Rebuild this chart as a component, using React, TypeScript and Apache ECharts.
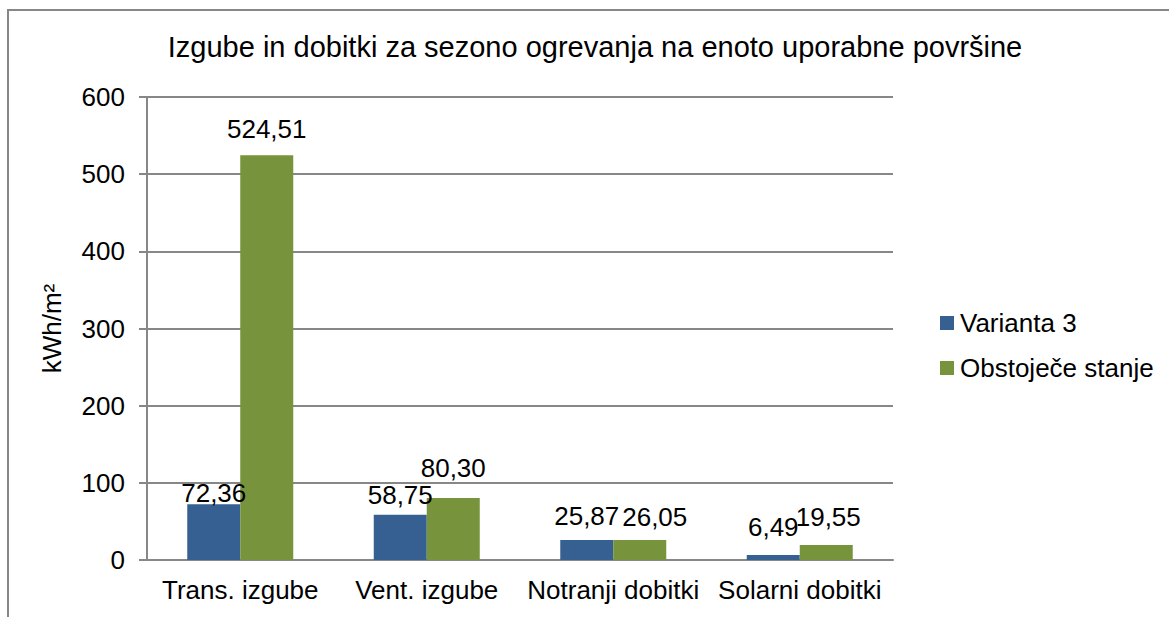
import React, { useEffect, useRef } from "react";
import * as echarts from "echarts";

const categories = ["Trans. izgube", "Vent. izgube", "Notranji dobitki", "Solarni dobitki"];
const seriesNames = ["Varianta 3", "Obstoječe stanje"];
const varianta3 = [72.36, 58.75, 25.87, 6.49];
const obstojece = [524.51, 80.3, 26.05, 19.55];
const yTicks = { min: 0, max: 600, interval: 100 };
const titleText = "Izgube in dobitki za sezono ogrevanja na enoto uporabne površine";
const yAxisName = "kWh/m²";

// label placement tweaks (distance above bar top, px; horizontal offset, px)
const distV3 = [-2, 7, 11, 15];
const distOb = [13, 17, 10, 15];
const shiftV3 = [0, 0, 0, 0];
const shiftOb = [0, 0, 15, 2];

const FONT = "'Liberation Sans', Arial, sans-serif";
const GRAY = "#878787";

const fmt = (v: number) => v.toFixed(2).replace(".", ",");

export default function App() {
  const ref = useRef<HTMLDivElement>(null);
  useEffect(() => {
    if (!ref.current) return;
    const chart = echarts.init(ref.current, null, { renderer: "svg" });
    const mk = (vals: number[], dists: number[], shifts: number[]) =>
      vals.map((v, i) => ({
        value: v,
        label: { distance: dists[i], offset: [shifts[i], 0] },
      }));
    const labelStyle = {
      show: true,
      position: "top",
      fontFamily: FONT,
      fontSize: 26,
      color: "#000",
      formatter: (p: any) => fmt(p.value),
    };
    chart.setOption({
      animation: false,
      backgroundColor: "#ffffff",
      textStyle: { fontFamily: FONT },
      graphic: [
        {
          type: "rect",
          silent: true,
          z: -10,
          shape: { x: 8, y: 10, width: 1400, height: 900 },
          style: { fill: "none", stroke: GRAY, lineWidth: 2 },
        },
        {
          type: "text",
          x: 595,
          y: 47,
          style: {
            text: titleText,
            fontFamily: FONT,
            fontSize: 29,
            fill: "#000",
            textAlign: "center",
            textVerticalAlign: "middle",
          },
        },
      ],
      legend: {
        orient: "vertical",
        left: 935,
        top: 305,
        itemWidth: 14,
        itemHeight: 14,
        itemGap: 19,
        icon: "rect",
        textStyle: { fontFamily: FONT, fontSize: 26, color: "#000", padding: [0, 0, 0, 1] },
        data: seriesNames,
      },
      grid: { left: 147, right: 276, top: 97, bottom: 57, containLabel: false },
      xAxis: {
        type: "category",
        data: categories,
        axisLine: { show: true, lineStyle: { color: GRAY, width: 2 } },
        axisTick: { show: false },
        axisLabel: { fontFamily: FONT, fontSize: 26, color: "#000", margin: 17, interval: 0 },
      },
      yAxis: {
        type: "value",
        min: yTicks.min,
        max: yTicks.max,
        interval: yTicks.interval,
        name: yAxisName,
        nameLocation: "middle",
        nameGap: 82,
        nameTextStyle: { fontFamily: FONT, fontSize: 26, color: "#000" },
        axisLine: { show: true, lineStyle: { color: GRAY, width: 2 } },
        axisTick: { show: true, inside: false, length: 8, lineStyle: { color: GRAY, width: 2 } },
        axisLabel: { fontFamily: FONT, fontSize: 26, color: "#000", margin: 22 },
        splitLine: { show: true, lineStyle: { color: GRAY, width: 2 } },
      },
      series: [
        {
          name: seriesNames[0],
          type: "bar",
          barWidth: 53,
          barGap: "0%",
          itemStyle: { color: "#376092" },
          label: labelStyle,
          data: mk(varianta3, distV3, shiftV3),
        },
        {
          name: seriesNames[1],
          type: "bar",
          barWidth: 53,
          barGap: "0%",
          itemStyle: { color: "#77933C" },
          label: labelStyle,
          data: mk(obstojece, distOb, shiftOb),
        },
      ],
    });
    return () => chart.dispose();
  }, []);
  return (
    <div
      ref={ref}
      style={{ position: "fixed", left: 0, top: 0, width: 1169, height: 617 }}
    />
  );
}
